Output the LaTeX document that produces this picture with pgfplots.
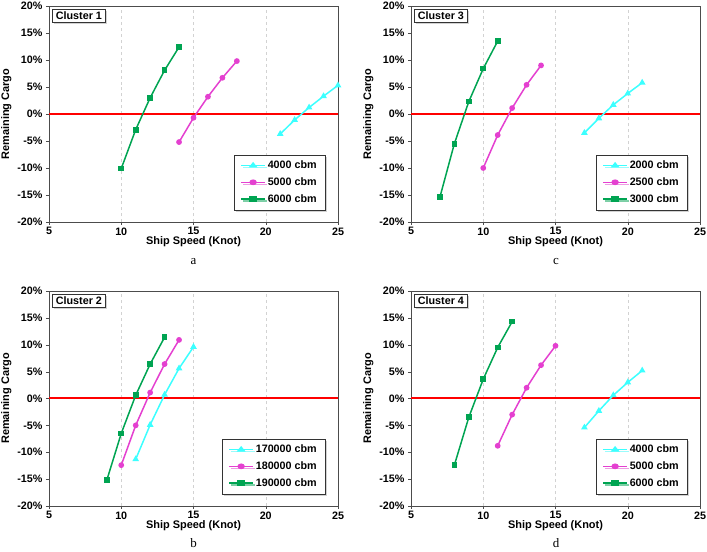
\documentclass[border=0pt]{standalone}
\usepackage{pgfplots}
\pgfplotsset{compat=1.18}
\usepackage{fontspec}
\setmainfont{Liberation Sans}
\newfontfamily\capfont{Liberation Serif}
\usetikzlibrary{shadows}
\definecolor{cyn}{RGB}{60,255,255}
\definecolor{mag}{RGB}{228,64,208}
\definecolor{grn}{RGB}{0,164,82}
\pgfplotsset{
 myax/.style={
  scale only axis, width=289bp, height=216bp,
  xmin=5, xmax=25, ymin=-20, ymax=20,
  xtick={5,10,15,20,25}, xticklabels={5,10,15,20,25},
  ytick={-20,-15,-10,-5,0,5,10,15,20},
  yticklabels={-20\%,-15\%,-10\%,-5\%,0\%,5\%,10\%,15\%,20\%},
  tick label style={font=\bfseries\fontsize{10.8}{12}\selectfont},
  label style={font=\bfseries\fontsize{11}{13}\selectfont},
  xlabel={Ship Speed (Knot)}, ylabel={Remaining Cargo},
  xlabel style={yshift=5bp}, ylabel style={yshift=-1bp},
  xticklabel style={yshift=1bp},
  xmajorgrids, major grid style={dashed, gray!35},
  axis line style={black!70}, tick style={black!70},
  tick align=outside, xtick pos=bottom, ytick pos=left, major tick length=3bp,
  legend style={at={(0.955,0.056)}, anchor=south east, draw=black!80, fill=white,
    drop shadow={shadow xshift=2bp, shadow yshift=-2bp, fill=gray!70},
    font=\bfseries\fontsize{10.8}{12}\selectfont, row sep=3.5bp, inner xsep=6bp, inner ysep=4bp},
  legend cell align=left,
  legend image post style={xscale=1.4},
 },
 cy/.style={cyn, line width=1.5bp, mark=triangle*, mark size=2.4bp, mark options={solid}},
 mg/.style={mag, line width=1.5bp, mark=*, mark size=2.1bp},
 gr/.style={grn, line width=1.5bp, mark=square*, mark size=2.1bp},
 zl/.style={red, line width=2bp, forget plot},
}
\newcommand{\clusterbox}[1]{\node[draw=black!80, fill=white, anchor=north west, inner xsep=3.5bp, inner ysep=2.5bp,
   drop shadow={shadow xshift=2bp, shadow yshift=-2bp, fill=gray!70},
   font=\bfseries\fontsize{10.8}{12}\selectfont] at (rel axis cs:0.011,0.985) {#1};}
\begin{document}
\begin{tikzpicture}
\useasboundingbox (0,0) rectangle (707bp,552bp);
% Panel a
\begin{axis}[myax, at={(49bp,330bp)}, anchor=south west]
\addplot[zl] coordinates {(5,0) (25,0)};
\addplot[cy] coordinates {(21,-3.7) (22,-1.1) (23,1.2) (24,3.3) (25,5.3)};
\addlegendentry{4000 cbm}
\addplot[mg] coordinates {(14,-5.2) (15,-0.7) (16,3.2) (17,6.7) (18,9.8)};
\addlegendentry{5000 cbm}
\addplot[gr] coordinates {(10,-10.1) (11,-2.9) (12,3.0) (13,8.1) (14,12.4)};
\addlegendentry{6000 cbm}
\clusterbox{Cluster 1}
\end{axis}
% Panel c
\begin{axis}[myax, at={(411bp,330bp)}, anchor=south west]
\addplot[zl] coordinates {(5,0) (25,0)};
\addplot[cy] coordinates {(17,-3.5) (18,-0.8) (19,1.7) (20,3.8) (21,5.8)};
\addlegendentry{2000 cbm}
\addplot[mg] coordinates {(10,-10.0) (11,-3.9) (12,1.1) (13,5.4) (14,9.0)};
\addlegendentry{2500 cbm}
\addplot[gr] coordinates {(7,-15.4) (8,-5.5) (9,2.3) (10,8.4) (11,13.5)};
\addlegendentry{3000 cbm}
\clusterbox{Cluster 3}
\end{axis}
% Panel b
\begin{axis}[myax, height=215bp, at={(49bp,46bp)}, anchor=south west]
\addplot[zl] coordinates {(5,0) (25,0)};
\addplot[cy] coordinates {(11,-11.3) (12,-4.9) (13,0.7) (14,5.6) (15,9.6)};
\addlegendentry{170000 cbm}
\addplot[mg] coordinates {(10,-12.4) (11,-5.0) (12,1.1) (13,6.4) (14,10.9)};
\addlegendentry{180000 cbm}
\addplot[gr] coordinates {(9,-15.2) (10,-6.5) (11,0.6) (12,6.4) (13,11.4)};
\addlegendentry{190000 cbm}
\clusterbox{Cluster 2}
\end{axis}
% Panel d
\begin{axis}[myax, height=215bp, at={(411bp,46bp)}, anchor=south west]
\addplot[zl] coordinates {(5,0) (25,0)};
\addplot[cy] coordinates {(17,-5.4) (18,-2.3) (19,0.6) (20,3.0) (21,5.2)};
\addlegendentry{4000 cbm}
\addplot[mg] coordinates {(11,-8.8) (12,-3.0) (13,2.0) (14,6.2) (15,9.8)};
\addlegendentry{5000 cbm}
\addplot[gr] coordinates {(8,-12.4) (9,-3.5) (10,3.6) (11,9.5) (12,14.3)};
\addlegendentry{6000 cbm}
\clusterbox{Cluster 4}
\end{axis}
\node[font=\capfont\fontsize{13}{15}\selectfont] at (193.5bp,290bp) {a};
\node[font=\capfont\fontsize{13}{15}\selectfont] at (556bp,290bp) {c};
\node[font=\capfont\fontsize{13}{15}\selectfont] at (193.5bp,9bp) {b};
\node[font=\capfont\fontsize{13}{15}\selectfont] at (556bp,9bp) {d};
\end{tikzpicture}
\end{document}
